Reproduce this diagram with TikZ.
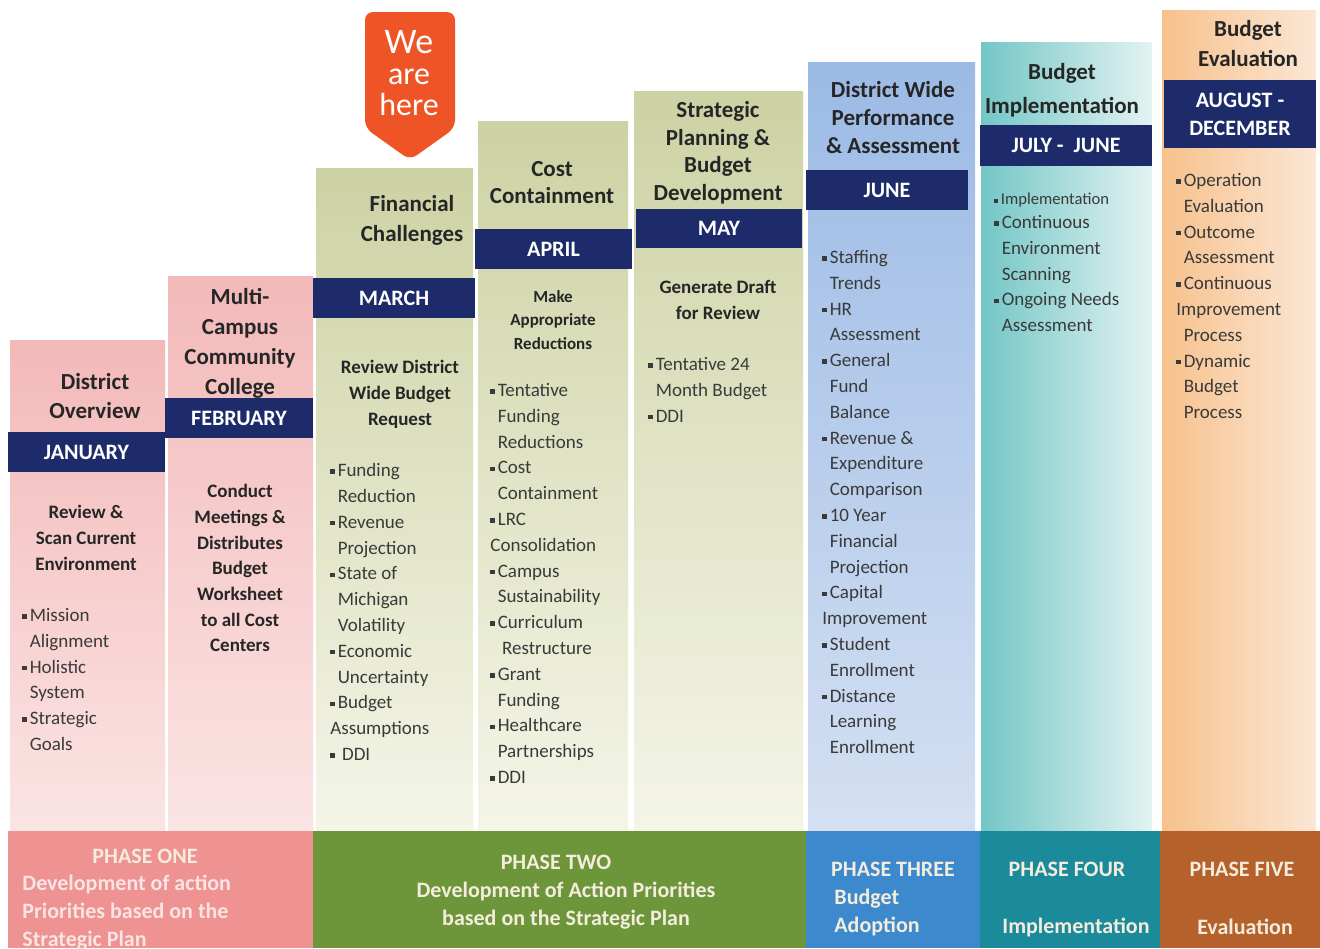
\documentclass[tikz,border=0pt]{standalone}
\usepackage{fontspec}
\setmainfont{Carlito}
\definecolor{navy}{HTML}{1E2B6A}
\definecolor{herered}{HTML}{EF5427}
\definecolor{ink}{HTML}{262626}
\definecolor{txt}{HTML}{3A3A3A}
\definecolor{cream}{HTML}{F4ECDC}
\definecolor{pinkT}{HTML}{F3B9B9}
\definecolor{pinkB}{HTML}{FBE4E4}
\definecolor{greenT}{HTML}{CDD2A4}
\definecolor{greenB}{HTML}{F4F5E7}
\definecolor{blueT}{HTML}{9BBAE5}
\definecolor{blueB}{HTML}{D4E0F2}
\definecolor{tealL}{HTML}{74C6C6}
\definecolor{tealR}{HTML}{E3F3F2}
\definecolor{orangeL}{HTML}{F7C18C}
\definecolor{orangeR}{HTML}{FBE7D5}
\definecolor{bandone}{HTML}{EE9292}
\definecolor{bandtwo}{HTML}{6D963B}
\definecolor{bandthree}{HTML}{3D89CD}
\definecolor{bandfour}{HTML}{1B8B9B}
\definecolor{bandfive}{HTML}{B4612B}
\newcommand{\blt}{\rule[.3ex]{.5ex}{.5ex}\hspace{.15em}}
\newcommand{\hng}{\hphantom{\blt}}
\tikzset{
  pinkcol/.style={top color=pinkT,bottom color=pinkB},
  greencol/.style={top color=greenT,bottom color=greenB},
  bluecol/.style={top color=blueT,bottom color=blueB},
  tealcol/.style={left color=tealL,right color=tealR},
  orangecol/.style={left color=orangeL,right color=orangeR},
  heading/.style={font=\fontsize{11.5}{#1}\selectfont\bfseries,text=ink,align=center,inner sep=0pt,anchor=north},
  heading/.default=14.5,
  monthbar/.style={fill=navy,text=white,font=\fontsize{11}{14}\selectfont\bfseries,inner sep=0pt,minimum height=20pt},
  task/.style={font=\fontsize{9.5}{#1}\selectfont\bfseries,text=ink,align=center,inner sep=0pt,anchor=north},
  task/.default=13,
  items/.style={font=\fontsize{9.5}{12.9}\selectfont,text=txt,align=left,inner sep=0pt,anchor=north west},
  phase/.style={font=\fontsize{11}{14}\selectfont\bfseries,text=cream,inner sep=0pt},
  phasesub/.style={phase,font=\fontsize{11}{14}\selectfont\bfseries}
}
\begin{document}
\begin{tikzpicture}[x=.5pt,y=-.5pt]
  \useasboundingbox[fill=white] (0,0) rectangle (1320,948);
  % columns
  \foreach \xa/\ya/\xb/\colsty in {10/340/165/pinkcol,168/276/313/pinkcol,
      316/168/473/greencol,478/121/628/greencol,634/91/803/greencol,
      808/62/975/bluecol,981/42/1152/tealcol,1162/10/1316/orangecol}
    \shade[\colsty] (\xa,\ya) rectangle (\xb,830);
  % phase band
  \foreach \xa/\xb/\bandcol in {8/313/bandone,313/806/bandtwo,806/980/bandthree,
      980/1160/bandfour,1160/1320/bandfive}
    \fill[\bandcol] (\xa,831) rectangle (\xb,948);
  % we are here
  \fill[herered,rounded corners=4pt] (365,12) -- (455,12) -- (455,128) -- (410,160) -- (365,128) -- cycle;
  \node[text=white,align=center,inner sep=0pt,font=\fontsize{16}{15.5}\selectfont] (here) at (409,73)
    {{\fontsize{18}{15.5}\selectfont We}\\are\\here};
  % headings
  \node[heading] (ovw) at (95,373) {District\\Overview};
  \node[heading=15] (mcc) at (240,288) {Multi-\\Campus\\Community\\College};
  \node[heading=15] (fin) at (412,195) {Financial\\Challenges};
  \node[heading=13.5] (cost) at (552,161) {Cost\\Containment};
  \node[heading=13.8] (plan) at (718,101) {Strategic\\Planning \&\\Budget\\Development};
  \node[heading=14] (perf) at (893,81) {District Wide\\Performance\\\& Assessment};
  \node[heading=17] (impl) at (1062,63) {Budget\\Implementation};
  \node[heading=15] (eval) at (1248,20) {Budget\\Evaluation};
  % months
  \node[monthbar,minimum width=78.5pt] (jan) at (86.5,452) {JANUARY};
  \node[monthbar,minimum width=74pt] (feb) at (239,418) {FEBRUARY};
  \node[monthbar,minimum width=81pt] (mar) at (394,298) {MARCH};
  \node[monthbar,minimum width=78.5pt] (apr) at (553.5,249) {APRIL};
  \node[monthbar,minimum width=83pt,minimum height=19.5pt] (may) at (719,228.5) {MAY};
  \node[monthbar,minimum width=81pt] (jun) at (887,190) {JUNE};
  \node[monthbar,minimum width=86pt,minimum height=20.5pt] (jul) at (1066,145.5) {JULY -\ \ JUNE};
  \node[monthbar,minimum width=76pt,minimum height=34pt,align=center] (aug) at (1240,114) {AUGUST -\\DECEMBER};
  % tasks
  \node[task] (scan) at (86,505) {Review \&\\Scan Current\\Environment};
  \node[task=12.85] (meet) at (240,484) {Conduct\\Meetings \&\\Distributes\\Budget\\Worksheet\\to all Cost\\Centers};
  \node[task] (req) at (400,360) {Review District\\Wide Budget\\Request};
  \node[task,font=\fontsize{8.5}{11.75}\selectfont\bfseries] (red) at (553,290) {Make\\Appropriate\\Reductions};
  \node[task] (draft) at (718,280) {Generate Draft\\for Review};
  % bullet lists
  \node[items] (ovwlist) at (22,608) {\blt Mission\\\hng Alignment\\\blt Holistic\\\hng System\\\blt Strategic\\\hng Goals};
  \node[items] (finlist) at (330,463) {\blt Funding\\\hng Reduction\\\blt Revenue\\\hng Projection\\\blt State of\\\hng Michigan\\\hng Volatility\\\blt Economic\\\hng Uncertainty\\\blt Budget\\Assumptions\\\blt\ DDI};
  \node[items] (costlist) at (490,383) {\blt Tentative\\\hng Funding\\\hng Reductions\\\blt Cost\\\hng Containment\\\blt LRC\\Consolidation\\\blt Campus\\\hng Sustainability\\\blt Curriculum\\\hng\ Restructure\\\blt Grant\\\hng Funding\\\blt Healthcare\\\hng Partnerships\\\blt DDI};
  \node[items] (planlist) at (648,357) {\blt Tentative 24\\\hng Month Budget\\\blt DDI};
  \node[items] (perflist) at (822,250) {\blt Staffing\\\hng Trends\\\blt HR\\\hng Assessment\\\blt General\\\hng Fund\\\hng Balance\\\blt Revenue \&\\\hng Expenditure\\\hng Comparison\\\blt 10 Year\\\hng Financial\\\hng Projection\\\blt Capital\\Improvement\\\blt Student\\\hng Enrollment\\\blt Distance\\\hng Learning\\\hng Enrollment};
  \node[items,font=\fontsize{8.3}{10}\selectfont] (impltop) at (994,193) {\blt Implementation};
  \node[items] (impllist) at (994,215) {\blt Continuous\\\hng Environment\\\hng Scanning\\\blt Ongoing Needs\\\hng Assessment};
  \node[items] (evallist) at (1176,173) {\blt Operation\\\hng Evaluation\\\blt Outcome\\\hng Assessment\\\blt Continuous\\Improvement\\\hng Process\\\blt Dynamic\\\hng Budget\\\hng Process};
  % phases
  \node[phase] (p1) at (145,856) {PHASE ONE};
  \node[phasesub,text=pinkB,align=left,anchor=north west] (p1t) at (22,875) {Development of action\\Priorities based on the\\Strategic Plan};
  \node[phase] (p2) at (556,862) {PHASE TWO};
  \node[phasesub,align=center] (p2t) at (566,906) {Development of Action Priorities\\based on the Strategic Plan};
  \node[phase] (p3) at (893,869) {PHASE THREE};
  \node[phasesub,align=left,anchor=west] (p3t) at (834,912.5) {Budget\\Adoption};
  \node[phase] (p4) at (1067,869) {PHASE FOUR};
  \node[phasesub] (p4t) at (1076,927) {Implementation};
  \node[phase] (p5) at (1242,869) {PHASE FIVE};
  \node[phasesub] (p5t) at (1245,927) {Evaluation};
\end{tikzpicture}
\end{document}
